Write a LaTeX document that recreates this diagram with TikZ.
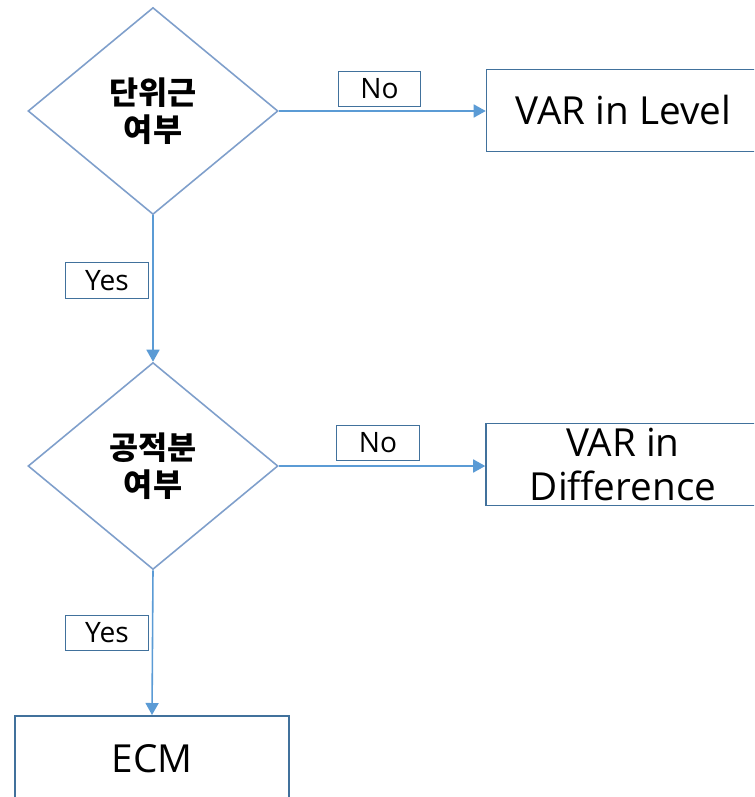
\documentclass[tikz,border=0pt]{standalone}
\usepackage{fontspec}
\setmainfont{Open Sans}
\newfontfamily\kofont{Noto Sans CJK KR}
\usetikzlibrary{shapes.geometric,arrows.meta}
\definecolor{flowline}{HTML}{5B9BD5}
\definecolor{boxline}{HTML}{41719C}
\definecolor{dialine}{HTML}{7F9FCB}
\begin{document}
\begin{tikzpicture}[
    x=0.02cm,y=-0.02cm,
    test/.style={diamond,draw=dialine,line width=0.9pt,minimum width=5cm,minimum height=4.14cm,inner sep=0pt,
        align=center,font=\kofont\bfseries\fontsize{18}{21}\selectfont},
    result/.style={rectangle,draw=boxline,line width=0.9pt,minimum width=5.48cm,minimum height=1.64cm,inner sep=0pt,
        align=center,font=\fontsize{22}{25.5}\selectfont},
    tag/.style={rectangle,draw=boxline,line width=0.8pt,minimum width=1.65cm,minimum height=0.71cm,inner sep=0pt,
        font=\fontsize{16}{18}\selectfont},
    arr/.style={draw=flowline,line width=0.9pt,-{Triangle[length=2.4mm,width=2.6mm]}}
]
    \clip (0,0) rectangle (754,797);

    \node[test] (unit) at (153,111) {단위근\\여부};
    \node[result] (level) at (623.5,110.5) {VAR in Level};
    \node[test] (coint) at (153,466) {공적분\\여부};
    \node[result] (diff) at (623,464.5) {VAR in\\Difference};
    \node[result,minimum height=2cm,text depth=0.3cm,anchor=north] (ecm) at (152,715) {ECM};

    \draw[arr] (unit.east) -- (level.west |- unit.east);
    \draw[arr] (unit.south) -- (coint.north);
    \draw[arr] (coint.east) -- (diff.west |- coint.east);
    \draw[arr] (coint.south) -- (ecm.north);

    \node[tag] (no1) at (379.5,89) {No};
    \node[tag] (yes1) at (107,280.5) {Yes};
    \node[tag] (no2) at (378,443) {No};
    \node[tag] (yes2) at (107,633) {Yes};
\end{tikzpicture}
\end{document}
